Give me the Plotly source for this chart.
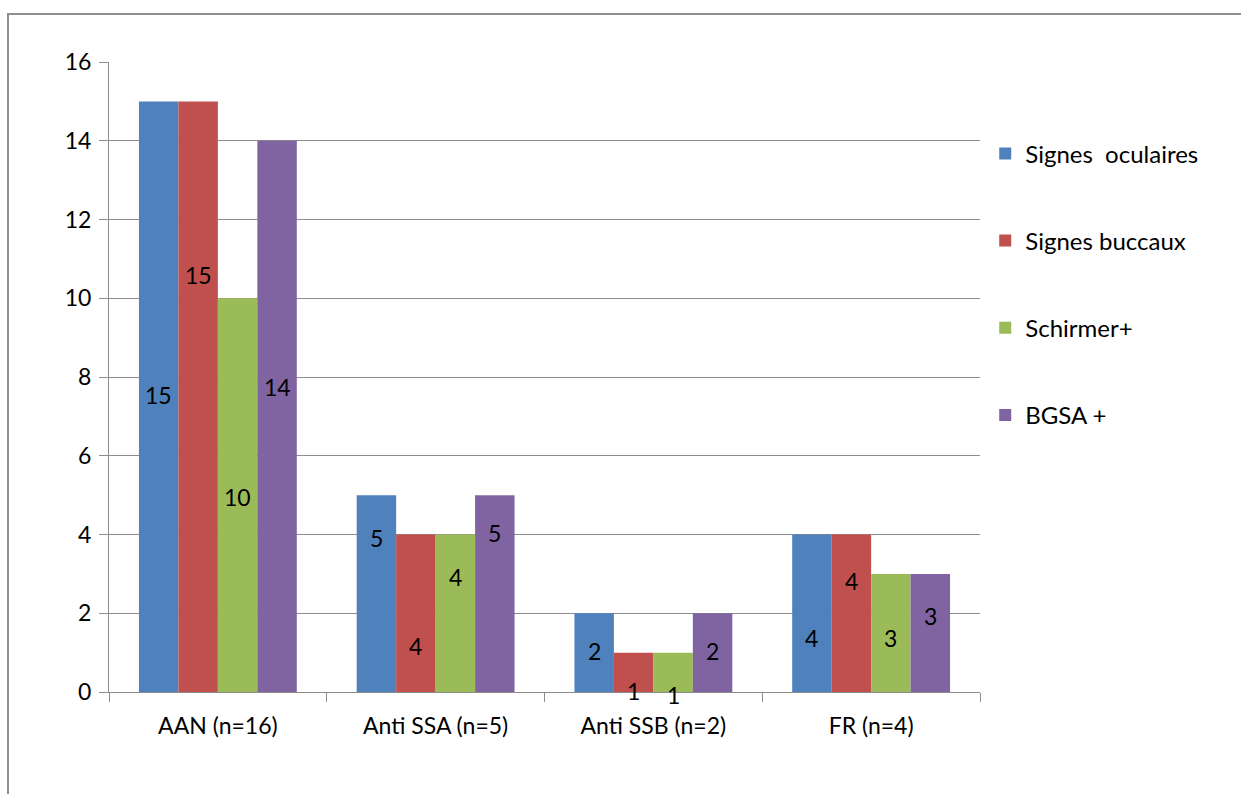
import plotly.graph_objects as go

# Categories and series
categories = ["AAN (n=16)", "Anti SSA (n=5)", "Anti SSB (n=2)", "FR (n=4)"]
series_names = ["Signes  oculaires", "Signes buccaux", "Schirmer+", "BGSA +"]
signes_oculaires = [15, 5, 2, 4]
signes_buccaux = [15, 4, 1, 4]
schirmer = [10, 4, 1, 3]
bgsa = [14, 5, 2, 3]
y_ticks = [0, 2, 4, 6, 8, 10, 12, 14, 16]

# Heights (in axis units) at which each series' value labels sit
label_heights = [
    [7.55, 3.9, 1.04, 1.37],
    [10.6, 1.17, 0.03, 2.82],
    [4.95, 2.92, -0.08, 1.37],
    [7.75, 4.04, 1.04, 1.93],
]

colors = ["#4F81BD", "#C0504D", "#9BBB59", "#8064A2"]
all_values = [signes_oculaires, signes_buccaux, schirmer, bgsa]

FONT = "Lato"
BARGAP = 0.275
PLOT_H = 630
Y_MAX = 16
px_per_unit = PLOT_H / Y_MAX

fig = go.Figure()
for name, vals, col in zip(series_names, all_values, colors):
    fig.add_trace(go.Bar(
        x=categories, y=vals, name=name, legendgroup=name,
        marker=dict(color=col, line=dict(width=0)),
    ))

# Value labels centred horizontally on each bar
n = len(all_values)
bar_w = (1 - BARGAP) / n
annotations = []
for i, (vals, heights) in enumerate(zip(all_values, label_heights)):
    offset = -(1 - BARGAP) / 2 + bar_w * (i + 0.5)
    for j, (v, h) in enumerate(zip(vals, heights)):
        annotations.append(dict(
            x=j + offset, y=max(h, 0), yshift=min(h, 0) * px_per_unit,
            xref="x", yref="y", text=str(v), showarrow=False,
            font=dict(family=FONT, size=23, color="#000000"),
        ))

# Chart frame
fig.add_shape(type="rect", xref="paper", yref="paper",
              x0=(8 - 109) / 871, x1=(1260 - 109) / 871,
              y0=(692 - 810) / 630, y1=(692 - 14) / 630,
              line=dict(color="#8f8f8f", width=2), fillcolor="rgba(0,0,0,0)",
              layer="below")

fig.update_layout(
    width=1241, height=794,
    margin=dict(l=109, r=261, t=62, b=102),
    paper_bgcolor="white", plot_bgcolor="white",
    barmode="group", bargap=BARGAP, bargroupgap=0,
    font=dict(family=FONT, size=23, color="#000000"),
    showlegend=True,
    legend=dict(x=1.006, y=0.89, xanchor="left", yanchor="top",
                traceorder="grouped", tracegroupgap=53,
                font=dict(family=FONT, size=24, color="#000000"),
                itemwidth=30),
    annotations=annotations,
    xaxis=dict(
        type="category", showline=True, linecolor="#8c8c8c", linewidth=1,
        ticks="outside", ticklen=9, tickcolor="#8c8c8c", tickson="boundaries",
        showgrid=False, tickfont=dict(family=FONT, size=23), ticklabelstandoff=13,
    ),
    yaxis=dict(
        range=[0, Y_MAX], tickvals=y_ticks, showline=True, linecolor="#8c8c8c",
        linewidth=1, ticks="outside", ticklen=9, tickcolor="#8c8c8c",
        showgrid=True, gridcolor="#8c8c8c", gridwidth=1, zeroline=False,
        tickfont=dict(family=FONT, size=23), ticklabelstandoff=3,
    ),
)

fig.write_html("out.html")
